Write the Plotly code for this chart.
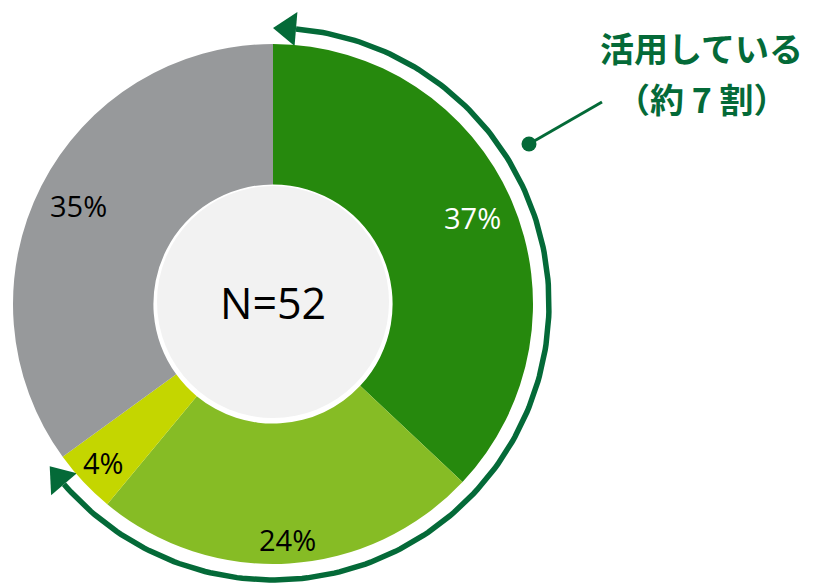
import numpy as np
import plotly.graph_objects as go

# Data
segments = ["区分A", "区分B", "区分C", "区分D"]
shares = [37, 24, 4, 35]          # percent
n_total = 52
used_segments = 3                 # first three slices = "活用している"
callout_lines = ["活用している", "（約 7 割）"]

# Colours
slice_colors = ["#26890D", "#86BC25", "#C4D600", "#97999B"]
label_colors = ["white", "black", "black", "black"]
accent = "#046A38"

# Canvas geometry (pixels, y downwards)
W, H = 814, 584
cx, cy, R = 273, 304, 260
hole = 0.46
arc_r = 276
label_radii = [217, 236, 232, 218]   # distance of each % label from centre

fig = go.Figure()

fig.add_trace(go.Pie(
    labels=segments, values=shares, sort=False, direction="clockwise",
    rotation=0, hole=hole, textinfo="none", hoverinfo="label+percent",
    marker=dict(colors=slice_colors, line=dict(width=0)),
    domain=dict(x=[(cx - R) / W, (cx + R) / W],
                y=[1 - (cy + R) / H, 1 - (cy - R) / H]),
    showlegend=False,
))

# cumulative angles (degrees, clockwise from 12 o'clock)
cum = np.concatenate([[0], np.cumsum(shares)]) / sum(shares) * 360


def pt(theta_deg, r):
    t = np.radians(theta_deg)
    return cx + r * np.sin(t), cy - r * np.cos(t)


# percentage labels
annotations = []
for i, s in enumerate(shares):
    mid = (cum[i] + cum[i + 1]) / 2
    x, y = pt(mid, label_radii[i])
    annotations.append(dict(
        x=x, y=y, xref="x", yref="y", text=f"{s}%", showarrow=False,
        font=dict(family="Open Sans, Noto Sans, sans-serif", size=29,
                  color=label_colors[i]),
    ))

# centre label
annotations.append(dict(
    x=cx, y=cy - 2, xref="x", yref="y", text=f"N={n_total}", showarrow=False,
    font=dict(family="Open Sans, Noto Sans, sans-serif", size=43, color="black"),
))

# callout text
annotations.append(dict(
    x=701, y=47, xref="x", yref="y", text=f"<b>{callout_lines[0]}</b>",
    showarrow=False,
    font=dict(family="Noto Sans CJK JP", size=34, color=accent),
))
annotations.append(dict(
    x=702, y=98, xref="x", yref="y", text=f"<b>{callout_lines[1]}</b>",
    showarrow=False,
    font=dict(family="Noto Sans CJK JP", size=34, color=accent),
))

# arc arrow around the "used" slices
head_len, head_half = 23, 17
head_deg = np.degrees(head_len / arc_r)
end_deg = cum[used_segments]
theta = np.linspace(head_deg, end_deg - head_deg, 200)
ax, ay = pt(theta, arc_r)
fig.add_trace(go.Scatter(x=ax, y=ay, mode="lines", line=dict(color=accent, width=5.5),
                         hoverinfo="skip", showlegend=False))


def head(tip_deg, back_deg):
    tx, ty = pt(tip_deg, arc_r)
    bx, by = pt(back_deg, arc_r)
    t = np.radians(back_deg)
    nx, ny = np.sin(t), -np.cos(t)
    return [tx, bx + nx * head_half, bx - nx * head_half, tx], \
           [ty, by + ny * head_half, by - ny * head_half, ty]


for tip, back in [(0, head_deg), (end_deg, end_deg - head_deg)]:
    hx, hy = head(tip, back)
    fig.add_trace(go.Scatter(x=hx, y=hy, mode="lines", fill="toself",
                             fillcolor=accent, line=dict(color=accent, width=0),
                             hoverinfo="skip", showlegend=False))

# leader line with dot
fig.add_trace(go.Scatter(x=[529, 602], y=[144, 102], mode="lines",
                         line=dict(color=accent, width=3),
                         hoverinfo="skip", showlegend=False))
fig.add_trace(go.Scatter(x=[529], y=[144], mode="markers",
                         marker=dict(color=accent, size=15),
                         hoverinfo="skip", showlegend=False))

fig.update_layout(
    width=W, height=H,
    margin=dict(l=0, r=0, t=0, b=0),
    paper_bgcolor="white", plot_bgcolor="rgba(0,0,0,0)",
    xaxis=dict(range=[0, W], visible=False, fixedrange=True),
    yaxis=dict(range=[H, 0], visible=False, fixedrange=True),
    annotations=annotations,
    shapes=[dict(type="circle", xref="x", yref="y",
                 x0=cx - 116, x1=cx + 116, y0=cy - 2 - 116, y1=cy - 2 + 116,
                 fillcolor="#F2F2F2", line=dict(width=0), layer="above")],
)

# drop the default page margin so the figure sits at the window's corner
fig.write_html("out.html", config={"displayModeBar": False},
               post_script="document.body.style.margin = '0';")
